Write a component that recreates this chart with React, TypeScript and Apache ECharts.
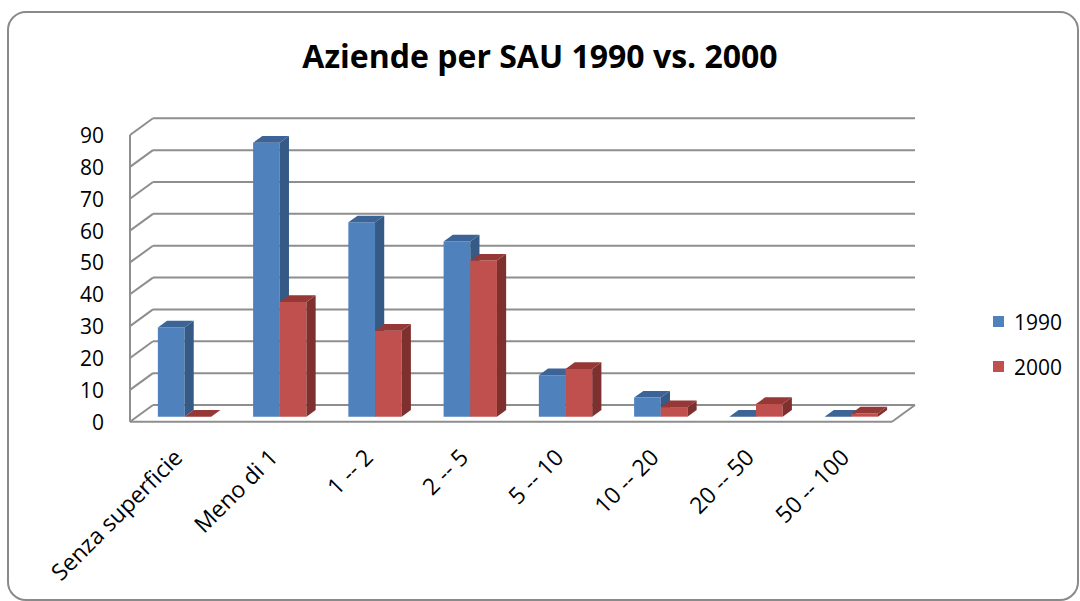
import React, { useEffect, useRef } from "react";
import * as echarts from "echarts";

const categories = ["Senza superficie", "Meno di 1", "1 -- 2", "2 -- 5", "5 -- 10", "10 -- 20", "20 -- 50", "50 -- 100"];
const values1990 = [28, 86, 61, 55, 13, 6, 0, 0];
const values2000 = [0, 36, 27, 49, 15, 3, 4, 1];
const yTicks = [0, 10, 20, 30, 40, 50, 60, 70, 80, 90];
const seriesNames = ["1990", "2000"];

const FONT = "'Open Sans', 'Liberation Sans', sans-serif";
const DX = 23;
const DY = 16.7;
const GRID_COLOR = "#8e8e8e";

const palettes = [
  { front: "#4F81BD", side: "#355A86", top: "#3C6497" },
  { front: "#C0504D", side: "#7E302E", top: "#953836" },
];

function barRender(idx: number) {
  const pal = palettes[idx];
  return (params: any, api: any) => {
    const i = api.value(0);
    const v = api.value(1);
    const top = api.coord([i, v]);
    const base = api.coord([i, 0]);
    const w = api.size([1, 0])[0] * 0.28;
    const fx = 0.3 * DX;
    const fy = -0.3 * DY;
    const bx = 0.4 * DX;
    const by = -0.4 * DY;
    const x0 = top[0] + fx + (idx === 0 ? -w : 0);
    const x1 = x0 + w;
    const yT = top[1] + fy;
    const yB = base[1] + fy;
    return {
      type: "group",
      children: [
        { type: "rect", shape: { x: x0, y: yT, width: w, height: Math.max(0, yB - yT) }, style: { fill: pal.front } },
        {
          type: "polygon",
          shape: { points: [[x1, yT], [x1 + bx, yT + by], [x1 + bx, yB + by], [x1, yB]] },
          style: { fill: pal.side },
        },
        {
          type: "polygon",
          shape: { points: [[x0, yT], [x0 + bx, yT + by], [x1 + bx, yT + by], [x1, yT]] },
          style: { fill: pal.top },
        },
      ],
    };
  };
}

function wallRender(params: any, api: any) {
  const v = api.value(1);
  const cs = params.coordSys;
  const y = api.coord([0, v])[1];
  const xl = cs.x;
  const xr = cs.x + cs.width;
  const lineStyle = { stroke: GRID_COLOR, lineWidth: 2, fill: "none" };
  const children: any[] = [
    { type: "line", shape: { x1: xl + DX, y1: y - DY, x2: xr + DX, y2: y - DY }, style: lineStyle },
    { type: "line", shape: { x1: xl, y1: y, x2: xl + DX, y2: y - DY }, style: lineStyle },
  ];
  if (v === yTicks[0]) {
    const yTop = api.coord([0, yTicks[yTicks.length - 1]])[1];
    children.push(
      { type: "line", shape: { x1: xl, y1: y, x2: xr, y2: y }, style: lineStyle },
      { type: "line", shape: { x1: xr, y1: y, x2: xr + DX, y2: y - DY }, style: lineStyle },
      { type: "line", shape: { x1: xl, y1: y, x2: xl, y2: yTop }, style: lineStyle }
    );
  }
  return { type: "group", children };
}

export default function App() {
  const ref = useRef<HTMLDivElement>(null);
  useEffect(() => {
    if (!ref.current) return;
    const chart = echarts.init(ref.current, null, { renderer: "svg" });
    chart.setOption({
      animation: false,
      backgroundColor: "#ffffff",
      title: {
        text: "Aziende per SAU 1990 vs. 2000",
        left: "center",
        top: 34,
        textStyle: { fontFamily: FONT, fontSize: 32, fontWeight: "bold", color: "#000" },
      },
      legend: {
        orient: "vertical",
        left: 988,
        top: 306,
        icon: "rect",
        itemWidth: 11,
        itemHeight: 11,
        itemGap: 24,
        data: seriesNames,
        textStyle: { fontFamily: FONT, fontSize: 21, color: "#000", padding: [0, 0, 0, 5] },
      },
      graphic: [
        {
          type: "rect",
          shape: { x: 8, y: 12, width: 1070, height: 588, r: 18 },
          style: { fill: "none", stroke: "#8a8a8a", lineWidth: 2 },
          silent: true,
        },
      ],
      grid: { left: 130, right: 188, top: 135, bottom: 179.3, containLabel: false },
      xAxis: {
        type: "category",
        data: categories,
        axisLine: { show: false },
        axisTick: { show: false },
        axisLabel: { rotate: 45, margin: 31, fontFamily: FONT, fontSize: 23, color: "#000", interval: 0 },
      },
      yAxis: {
        type: "value",
        min: 0,
        max: 90,
        interval: 10,
        axisLine: { show: false },
        axisTick: { show: false },
        splitLine: { show: false },
        axisLabel: { margin: 26, fontFamily: FONT, fontSize: 21, color: "#000" },
      },
      series: [
        {
          type: "custom",
          name: "walls",
          z: 1,
          renderItem: wallRender,
          encode: { x: 0, y: 1 },
          data: yTicks.map((t) => [0, t]),
          silent: true,
        },
        {
          type: "custom",
          name: seriesNames[0],
          z: 2,
          itemStyle: { color: palettes[0].front },
          renderItem: barRender(0),
          encode: { x: 0, y: 1 },
          data: values1990.map((v, i) => [i, v]),
        },
        {
          type: "custom",
          name: seriesNames[1],
          z: 3,
          itemStyle: { color: palettes[1].front },
          renderItem: barRender(1),
          encode: { x: 0, y: 1 },
          data: values2000.map((v, i) => [i, v]),
        },
      ],
    });
    return () => chart.dispose();
  }, []);
  return <div ref={ref} style={{ position: "fixed", left: 0, top: 0, width: 1080, height: 601 }} />;
}
